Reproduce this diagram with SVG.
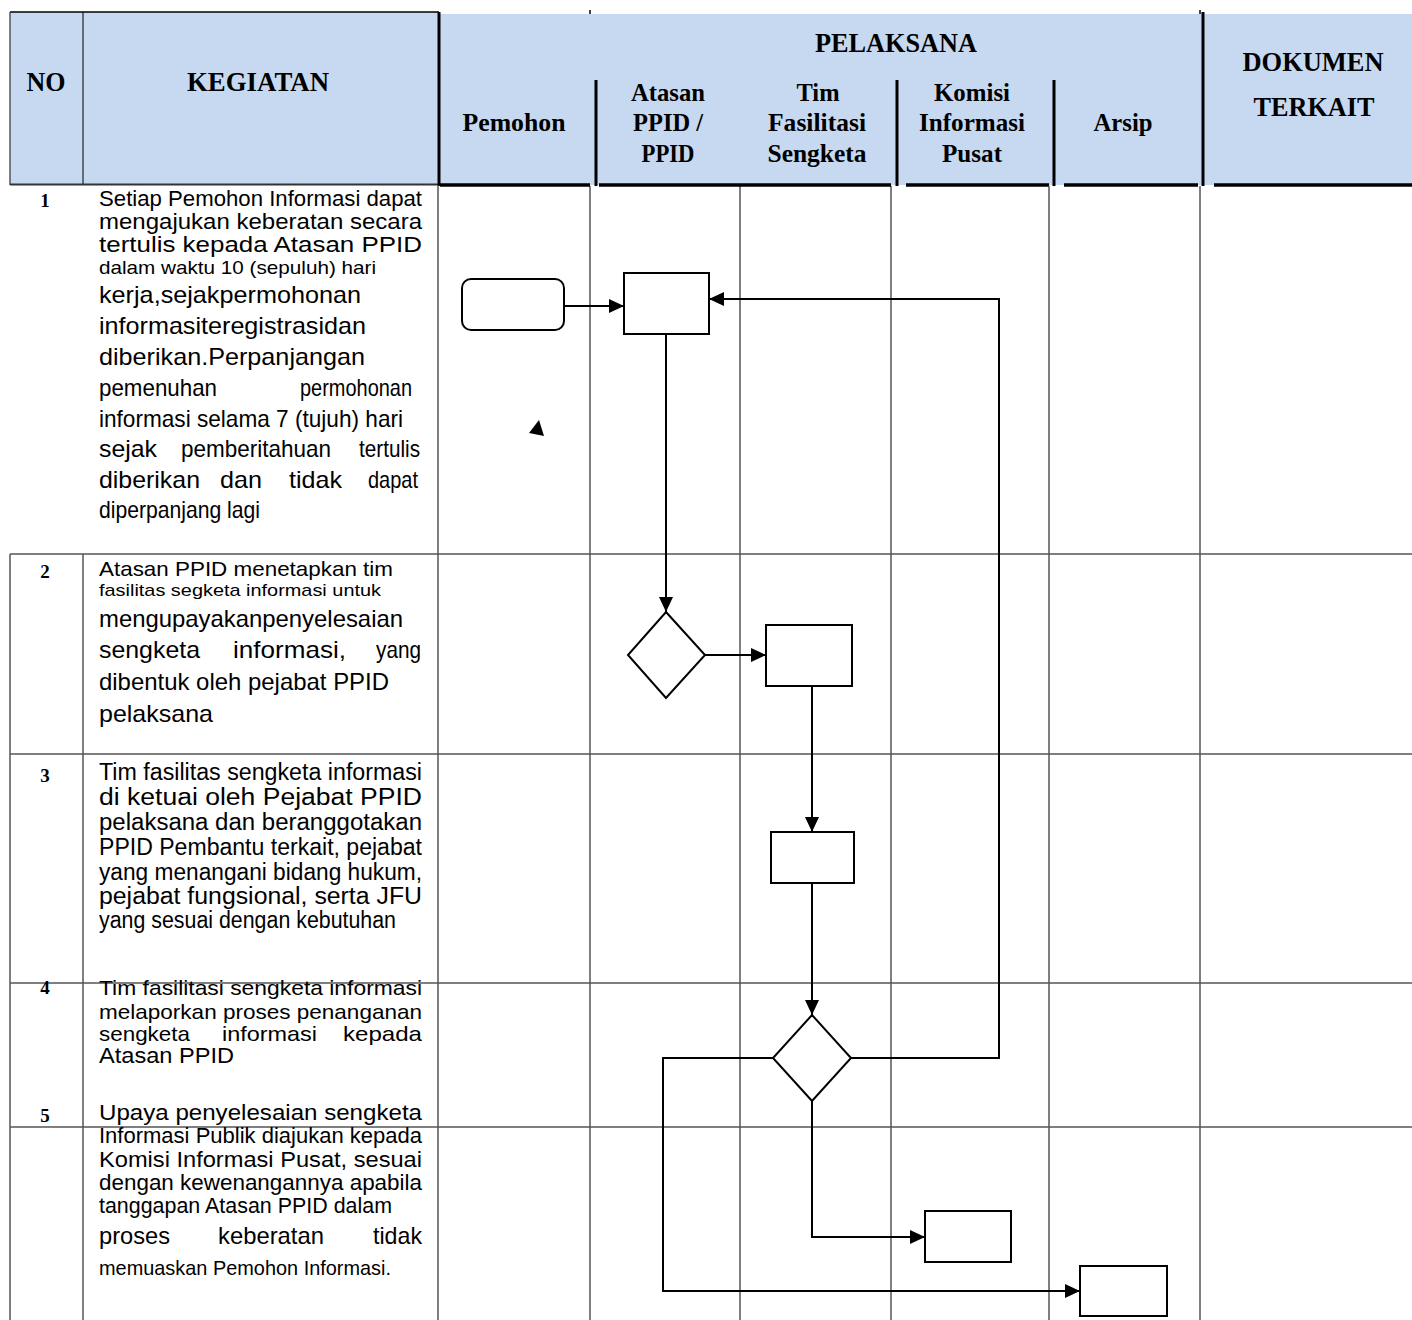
<svg xmlns="http://www.w3.org/2000/svg" width="1412" height="1320" viewBox="0 0 1412 1320">
<style>
.hd{font-family:"Liberation Serif","Times New Roman",serif;font-weight:bold;fill:#000}
.tx{font-family:"Liberation Sans",Arial,sans-serif;fill:#000}
.grid{stroke:#555;stroke-width:1.5;fill:none}
.gridk{stroke:#000;stroke-width:1;fill:none}
.thick{stroke:#000;stroke-width:3;fill:none}
.shape{fill:#fff;stroke:#000;stroke-width:2}
.con{fill:none;stroke:#000;stroke-width:2}
</style>
<defs>
<marker id="ah" viewBox="0 0 15 14" refX="15" refY="7" markerUnits="userSpaceOnUse" markerWidth="15" markerHeight="14" orient="auto">
<path d="M0,0 L15,7 L0,14 z" fill="#000"/>
</marker>
</defs>
<rect width="1412" height="1320" fill="#fff"/>
<g id="header">
<rect x="10" y="12" width="429" height="173" fill="#C6D9F0"/>
<rect x="439" y="14" width="973" height="171" fill="#C6D9F0"/>
<line x1="10" y1="12" x2="439" y2="12" stroke="#000" stroke-width="1.5"/>
<line x1="590" y1="10" x2="590" y2="14" stroke="#000" stroke-width="1.5"/>
<line x1="1200" y1="10" x2="1200" y2="14" stroke="#000" stroke-width="1.5"/>
<line x1="10" y1="12" x2="10" y2="185" class="grid"/>
<line x1="83" y1="12" x2="83" y2="185" class="gridk"/>
<line x1="10" y1="184.5" x2="438" y2="184.5" stroke="#333" stroke-width="2"/>
<line x1="439" y1="12" x2="439" y2="186" class="thick"/>
<line x1="596" y1="80" x2="596" y2="186" class="thick"/>
<line x1="897" y1="80" x2="897" y2="186" class="thick"/>
<line x1="1054" y1="80" x2="1054" y2="186" class="thick"/>
<line x1="1203" y1="12" x2="1203" y2="186" class="thick"/>
<g stroke="#000" stroke-width="3.5">
<line x1="440" y1="185" x2="590" y2="185"/>
<line x1="599" y1="185" x2="891" y2="185"/>
<line x1="906" y1="185" x2="1049" y2="185"/>
<line x1="1064" y1="185" x2="1198" y2="185"/>
<line x1="1214" y1="185" x2="1412" y2="185"/>
</g>
<text class="hd" x="46" y="91" font-size="28" text-anchor="middle" textLength="39" lengthAdjust="spacingAndGlyphs">NO</text>
<text class="hd" x="258" y="91" font-size="28" text-anchor="middle" textLength="142" lengthAdjust="spacingAndGlyphs">KEGIATAN</text>
<text class="hd" x="896" y="52" font-size="28" text-anchor="middle" textLength="162" lengthAdjust="spacingAndGlyphs">PELAKSANA</text>
<text class="hd" x="1313" y="71" font-size="28" text-anchor="middle" textLength="141" lengthAdjust="spacingAndGlyphs">DOKUMEN</text>
<text class="hd" x="1314" y="116" font-size="28" text-anchor="middle" textLength="121" lengthAdjust="spacingAndGlyphs">TERKAIT</text>
<text class="hd" x="514" y="131" font-size="25" text-anchor="middle" textLength="103" lengthAdjust="spacingAndGlyphs">Pemohon</text>
<text class="hd" x="668" y="101" font-size="25" text-anchor="middle" textLength="74" lengthAdjust="spacingAndGlyphs">Atasan</text>
<text class="hd" x="668" y="131" font-size="25" text-anchor="middle" textLength="70" lengthAdjust="spacingAndGlyphs">PPID /</text>
<text class="hd" x="668" y="162" font-size="25" text-anchor="middle" textLength="53" lengthAdjust="spacingAndGlyphs">PPID</text>
<text class="hd" x="818" y="101" font-size="25" text-anchor="middle" textLength="43" lengthAdjust="spacingAndGlyphs">Tim</text>
<text class="hd" x="817" y="131" font-size="25" text-anchor="middle" textLength="98" lengthAdjust="spacingAndGlyphs">Fasilitasi</text>
<text class="hd" x="817" y="162" font-size="25" text-anchor="middle" textLength="99" lengthAdjust="spacingAndGlyphs">Sengketa</text>
<text class="hd" x="972" y="101" font-size="25" text-anchor="middle" textLength="76" lengthAdjust="spacingAndGlyphs">Komisi</text>
<text class="hd" x="972" y="131" font-size="25" text-anchor="middle" textLength="106" lengthAdjust="spacingAndGlyphs">Informasi</text>
<text class="hd" x="972" y="162" font-size="25" text-anchor="middle" textLength="60" lengthAdjust="spacingAndGlyphs">Pusat</text>
<text class="hd" x="1123" y="131" font-size="25" text-anchor="middle" textLength="59" lengthAdjust="spacingAndGlyphs">Arsip</text>
</g>
<g id="grid">
<line x1="438" y1="185" x2="438" y2="1320" class="grid"/>
<line x1="590" y1="186" x2="590" y2="1320" class="gridk"/>
<line x1="740" y1="186" x2="740" y2="1320" class="gridk"/>
<line x1="891" y1="186" x2="891" y2="1320" class="gridk"/>
<line x1="1049" y1="186" x2="1049" y2="1320" class="grid"/>
<line x1="1200" y1="186" x2="1200" y2="1320" class="grid"/>
<line x1="10" y1="554" x2="10" y2="1320" class="grid"/>
<line x1="83" y1="554" x2="83" y2="1320" class="gridk"/>
<line x1="10" y1="554" x2="1412" y2="554" class="grid"/>
<line x1="10" y1="754" x2="1412" y2="754" class="grid"/>
<line x1="10" y1="983" x2="1412" y2="983" class="grid"/>
<line x1="10" y1="1127" x2="1412" y2="1127" class="grid"/>
</g>
<g id="numbers" class="hd" font-size="19" text-anchor="middle">
<text x="45" y="207">1</text>
<text x="45" y="578">2</text>
<text x="45" y="782">3</text>
<text x="45" y="994">4</text>
<text x="45" y="1122">5</text>
</g>
<g id="text-row1" class="tx" font-size="24">
<text x="99" y="206" font-size="21.5" textLength="323" lengthAdjust="spacingAndGlyphs">Setiap Pemohon Informasi dapat</text>
<text x="99" y="229" font-size="21.5" textLength="323" lengthAdjust="spacingAndGlyphs">mengajukan  keberatan  secara</text>
<text x="99" y="252" font-size="21.5" textLength="323" lengthAdjust="spacingAndGlyphs">tertulis  kepada  Atasan  PPID</text>
<text x="99" y="274" font-size="19" textLength="277" lengthAdjust="spacingAndGlyphs">dalam waktu  10 (sepuluh)  hari</text>
<text x="99" y="303" textLength="262" lengthAdjust="spacingAndGlyphs">kerja,sejakpermohonan</text>
<text x="99" y="334" textLength="267" lengthAdjust="spacingAndGlyphs">informasiteregistrasidan</text>
<text x="99" y="365" textLength="266" lengthAdjust="spacingAndGlyphs">diberikan.Perpanjangan</text>
<text x="99" y="396" textLength="118" lengthAdjust="spacingAndGlyphs">pemenuhan</text>
<text x="300" y="396" textLength="112" lengthAdjust="spacingAndGlyphs">permohonan</text>
<text x="99" y="427" textLength="304" lengthAdjust="spacingAndGlyphs">informasi selama 7 (tujuh) hari</text>
<text x="99" y="457" textLength="58" lengthAdjust="spacingAndGlyphs">sejak</text>
<text x="181" y="457" textLength="150" lengthAdjust="spacingAndGlyphs">pemberitahuan</text>
<text x="359" y="457" textLength="61" lengthAdjust="spacingAndGlyphs">tertulis</text>
<text x="99" y="488" textLength="101" lengthAdjust="spacingAndGlyphs">diberikan</text>
<text x="220" y="488" textLength="42" lengthAdjust="spacingAndGlyphs">dan</text>
<text x="289" y="488" textLength="53" lengthAdjust="spacingAndGlyphs">tidak</text>
<text x="368" y="488" textLength="50" lengthAdjust="spacingAndGlyphs">dapat</text>
<text x="99" y="518" textLength="161" lengthAdjust="spacingAndGlyphs">diperpanjang lagi</text>
</g>
<g id="text-row2" class="tx" font-size="24">
<text x="99" y="576" font-size="21" textLength="294" lengthAdjust="spacingAndGlyphs">Atasan PPID menetapkan tim</text>
<text x="99" y="596" font-size="17" textLength="282" lengthAdjust="spacingAndGlyphs">fasilitas segketa informasi untuk</text>
<text x="99" y="627" textLength="304" lengthAdjust="spacingAndGlyphs">mengupayakanpenyelesaian</text>
<text x="99" y="658" textLength="101" lengthAdjust="spacingAndGlyphs">sengketa</text>
<text x="233" y="658" textLength="113" lengthAdjust="spacingAndGlyphs">informasi,</text>
<text x="376" y="658" textLength="45" lengthAdjust="spacingAndGlyphs">yang</text>
<text x="99" y="690" textLength="290" lengthAdjust="spacingAndGlyphs">dibentuk oleh pejabat PPID</text>
<text x="99" y="722" textLength="114" lengthAdjust="spacingAndGlyphs">pelaksana</text>
</g>
<g id="text-row3" class="tx" font-size="23">
<text x="99" y="780" textLength="323" lengthAdjust="spacingAndGlyphs">Tim fasilitas sengketa informasi</text>
<text x="99" y="805" textLength="323" lengthAdjust="spacingAndGlyphs">di  ketuai  oleh  Pejabat  PPID</text>
<text x="99" y="830" textLength="323" lengthAdjust="spacingAndGlyphs">pelaksana  dan  beranggotakan</text>
<text x="99" y="855" textLength="323" lengthAdjust="spacingAndGlyphs">PPID Pembantu terkait, pejabat</text>
<text x="99" y="880" textLength="323" lengthAdjust="spacingAndGlyphs">yang  menangani  bidang  hukum,</text>
<text x="99" y="904" textLength="323" lengthAdjust="spacingAndGlyphs">pejabat  fungsional,  serta  JFU</text>
<text x="99" y="928" textLength="297" lengthAdjust="spacingAndGlyphs">yang sesuai dengan kebutuhan</text>
</g>
<g id="text-row4" class="tx" font-size="21">
<text x="99" y="995" textLength="323" lengthAdjust="spacingAndGlyphs">Tim  fasilitasi  sengketa  informasi</text>
<text x="99" y="1019" textLength="323" lengthAdjust="spacingAndGlyphs">melaporkan  proses  penanganan</text>
<text x="99" y="1041" textLength="91" lengthAdjust="spacingAndGlyphs">sengketa</text>
<text x="222" y="1041" textLength="95" lengthAdjust="spacingAndGlyphs">informasi</text>
<text x="343" y="1041" textLength="79" lengthAdjust="spacingAndGlyphs">kepada</text>
<text x="99" y="1063" font-size="22" textLength="135" lengthAdjust="spacingAndGlyphs">Atasan PPID</text>
</g>
<g id="text-row5" class="tx" font-size="22">
<text x="99" y="1120" textLength="323" lengthAdjust="spacingAndGlyphs">Upaya  penyelesaian  sengketa</text>
<text x="99" y="1143" textLength="323" lengthAdjust="spacingAndGlyphs">Informasi Publik diajukan kepada</text>
<text x="99" y="1167" textLength="323" lengthAdjust="spacingAndGlyphs">Komisi Informasi Pusat, sesuai</text>
<text x="99" y="1190" textLength="323" lengthAdjust="spacingAndGlyphs">dengan  kewenangannya  apabila</text>
<text x="99" y="1213" textLength="293" lengthAdjust="spacingAndGlyphs">tanggapan Atasan PPID dalam</text>
<text x="99" y="1244" font-size="24" textLength="71" lengthAdjust="spacingAndGlyphs">proses</text>
<text x="218" y="1244" font-size="24" textLength="106" lengthAdjust="spacingAndGlyphs">keberatan</text>
<text x="373" y="1244" font-size="24" textLength="49" lengthAdjust="spacingAndGlyphs">tidak</text>
<text x="99" y="1275" font-size="21" textLength="292" lengthAdjust="spacingAndGlyphs">memuaskan Pemohon Informasi.</text>
</g>
<g id="connectors">
<path class="con" d="M564,306 H624" marker-end="url(#ah)"/>
<path class="con" d="M851,1058 H999 V299 H709" marker-end="url(#ah)"/>
<path class="con" d="M666,334 V612" marker-end="url(#ah)"/>
<path class="con" d="M705,655 H766" marker-end="url(#ah)"/>
<path class="con" d="M812,686 V832" marker-end="url(#ah)"/>
<path class="con" d="M812,883 V1015" marker-end="url(#ah)"/>
<path class="con" d="M812,1101 V1237 H925" marker-end="url(#ah)"/>
<path class="con" d="M773,1058 H663 V1291 H1080" marker-end="url(#ah)"/>
</g>
<g id="n-pemohon-start"><rect class="shape" x="462" y="279" width="102" height="51" rx="9"/></g>
<g id="n-atasan"><rect class="shape" x="624" y="273" width="85" height="61"/></g>
<g id="n-decision1"><polygon class="shape" points="666,612 705,655 666,698 628,655"/></g>
<g id="n-tim1"><rect class="shape" x="766" y="625" width="86" height="61"/></g>
<g id="n-tim2"><rect class="shape" x="771" y="832" width="83" height="51"/></g>
<g id="n-decision2"><polygon class="shape" points="812,1015 851,1058 812,1101 773,1058"/></g>
<g id="n-komisi"><rect class="shape" x="925" y="1211" width="86" height="51"/></g>
<g id="n-arsip"><rect class="shape" x="1080" y="1266" width="87" height="50"/></g>
<g id="stray-mark"><polygon points="539,420 529,433 544,436" fill="#000"/></g>
</svg>
